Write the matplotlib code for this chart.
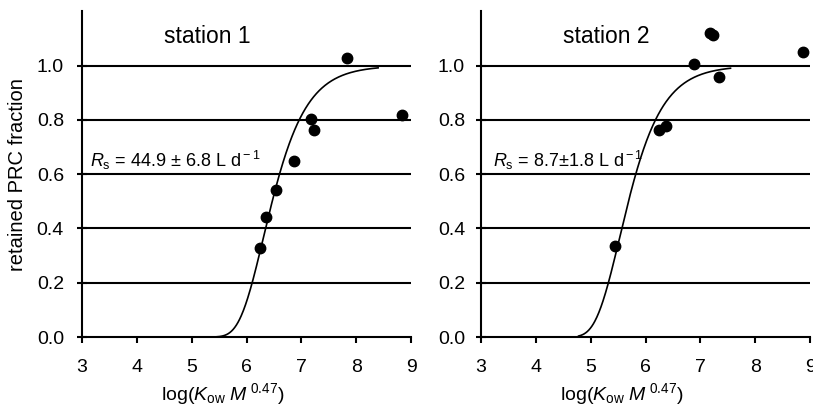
import numpy as np
import matplotlib
matplotlib.use("Agg")
import matplotlib.pyplot as plt
from matplotlib import transforms

plt.rcParams['font.family'] = ['Liberation Sans', 'DejaVu Sans']
plt.rcParams['mathtext.fontset'] = 'custom'
plt.rcParams['mathtext.rm'] = 'Liberation Sans'
plt.rcParams['mathtext.it'] = 'Liberation Sans:italic'
plt.rcParams['mathtext.bf'] = 'Liberation Sans:bold'

# ---- data ----
st1_x = [6.24, 6.36, 6.53, 6.86, 7.17, 7.23, 7.83, 8.84]
st1_y = [0.328, 0.444, 0.542, 0.647, 0.804, 0.763, 1.027, 0.818]
st2_x = [5.45, 6.24, 6.38, 6.88, 7.17, 7.23, 7.34, 8.87]
st2_y = [0.334, 0.763, 0.779, 1.005, 1.121, 1.113, 0.960, 1.052]

# fitted model f = exp(-10**(mid - x)), parameters
fit_mid = [6.31, 5.53]
fit_xrange = [(5.45, 8.40), (4.78, 7.55)]

titles = ["station 1", "station 2"]
rs_labels = [r"$R_{\rm s}$ = 44.9 ± 6.8 L d$^{\rm -1}$",
             r"$R_{\rm s}$ = 8.7±1.8 L d$^{\rm -1}$"]
rs_xpos = [3.15, 3.22]
xticks = [3, 4, 5, 6, 7, 8, 9]
yticks = [0.0, 0.2, 0.4, 0.6, 0.8, 1.0]
ylabel = "retained PRC fraction"
xlabel = r"log($K_{\rm ow}$ $M$$^{\ \rm 0.47}$)"

W, H = 813, 412
fig = plt.figure(figsize=(W / 100, H / 100), dpi=100)

ax_lefts = [82, 481]
ax_w = 329
ax_bottom = 337
ax_h = 325.6

xs_all = [st1_x, st2_x]
ys_all = [st1_y, st2_y]
ypads = [9.5, 8]

for i in range(2):
    ax = fig.add_axes([ax_lefts[i] / W, 1 - ax_bottom / H, ax_w / W, ax_h / H])
    ax.set_xlim(3, 9)
    ax.set_ylim(0, 1.2)
    for yv in yticks[1:]:
        ax.axhline(yv, color='black', lw=1.5, zorder=1)
    x0, x1 = fit_xrange[i]
    xc = np.linspace(x0, x1, 300)
    yc = np.exp(-10 ** (fit_mid[i] - xc))
    ax.plot(xc, yc, color='black', lw=1.2, zorder=2)
    ax.plot(xs_all[i], ys_all[i], 'o', color='black', ms=7.5, zorder=3)

    for s in ['top', 'right']:
        ax.spines[s].set_visible(False)
    ax.spines['left'].set_linewidth(1.5)
    ax.spines['bottom'].set_linewidth(1.5)
    ax.set_xticks(xticks)
    ax.set_xticklabels([str(t) for t in xticks])
    ax.set_yticks(yticks)
    ax.set_yticklabels([f"{t:.1f}" for t in yticks])
    ax.tick_params(axis='x', direction='out', length=4, width=1.5, labelsize=14, pad=12)
    ax.tick_params(axis='y', direction='inout', length=7, width=1.5, labelsize=14, pad=ypads[i])

    ax.text(5.29, 1.084, titles[i], ha='center', va='baseline', fontsize=16.5)
    ax.text(rs_xpos[i], 0.628, rs_labels[i], ha='left', va='baseline', fontsize=13)

    tr = transforms.blended_transform_factory(ax.transAxes, fig.transFigure)
    ax.text(0.427, 1 - 400 / H, xlabel, transform=tr, ha='center', va='baseline', fontsize=14)

fig.text(18 / W, 1 - 175 / H, ylabel, rotation=90, ha='center', va='center', fontsize=14.5)

fig.savefig("out.png", dpi=100)
